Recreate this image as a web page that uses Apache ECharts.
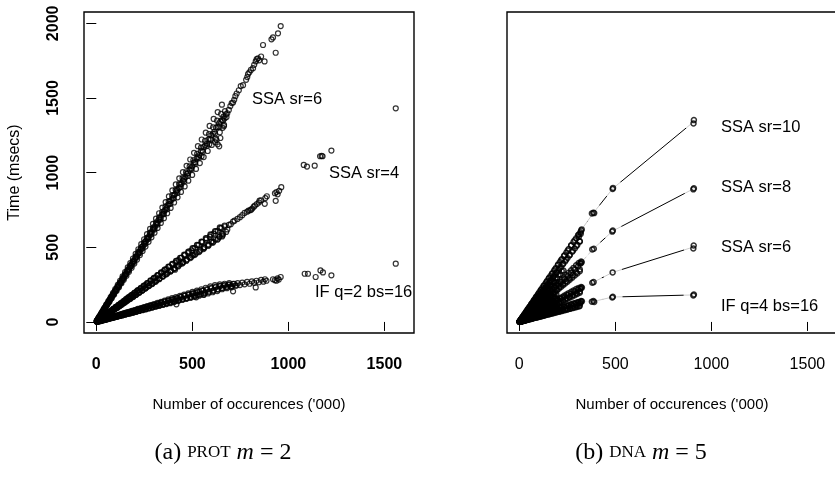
<!DOCTYPE html>
<html>
<head>
<meta charset="utf-8">
<script src="https://cdn.jsdelivr.net/npm/echarts@6/dist/echarts.min.js"></script>
<style>
  html, body { margin: 0; padding: 0; background: #fff; }
  #chart { width: 835px; height: 477px; }
</style>
</head>
<body>
<div id="chart"></div>
<script>
// ---- data ----
var xTicks = [0, 500, 1000, 1500];
var yTicks = [0, 500, 1000, 1500, 2000];

// (a) PROT m=2
var protSsa6 = [
  [1,4],[3,9],[4,6],[6,14],[8,17],[9,20],[11,25],[13,26],[15,33],[17,35],[19,41],[22,44],[24,52],[26,55],[29,60],[31,67],[34,70],[36,77],[39,81],[41,88],[44,92],[47,98],[49,104],[52,108],[55,117],[58,121],[61,127],[64,136],[67,139],[70,148],[73,153],[76,160],[80,169],[83,173],[86,183],[90,187],[93,196],[97,204],[100,209],[104,220],[108,224],[111,235],[115,240],[119,249],[123,259],[127,264],[131,276],[135,281],[139,292],[143,298],[147,309],[151,318],[156,324],[160,338],[164,343],[169,354],[173,364],[178,371],[182,384],[187,390],[191,402],[196,410],[201,420],[205,433],[210,438],[215,452],[220,459],[225,470],[230,485],[235,490],[240,505],[245,512],[251,524],[256,540],[261,545],[267,561],[272,568],[278,580],[283,597],[289,602],[294,619],[300,626],[306,640],[312,657],[317,661],[323,680],[329,688],[335,700],[341,718],[347,724],[353,742],[359,750],[365,763],[372,783],[378,788],[384,808],[391,816],[397,829],[404,850],[410,855],[417,876],[423,885],[430,898],[437,920],[444,925],[451,947],[457,957],[464,969],[471,992],[478,996],[486,1020],[493,1030],[500,1043],[507,1067],[515,1070],[522,1096],[529,1105],[537,1118],[544,1143],[552,1148],[560,1172],[567,1183],[575,1195],[583,1222],[591,1226],[599,1250],[607,1262],[615,1274],[623,1302],[631,1306],[639,1330],[646,1343],[654,1352],[662,1375],[668,1362],[675,1390],
  [618,1205],[626,1218],[632,1190],[640,1176],[646,1232],[658,1300],[665,1320],[588,1190],[548,1110],
  [682,1398],[690,1420],[698,1446],[705,1466],[712,1470],[718,1488],[724,1512],[731,1530],[742,1552],[752,1580],[764,1586],[780,1622],[786,1640],[790,1660],[797,1672],[805,1688],[816,1700],[822,1722],[830,1745],[835,1760],[842,1766],[848,1752],[858,1778],[868,1855],[876,1745],[912,1893],[920,1906],[934,1803],[946,1933],[960,1982]
];
var protSsa6More = [
  [5,10],[12,24],[18,40],[25,51],[32,69],[38,77],[45,97],[51,104],[57,123],[63,128],[70,150],[77,157],[83,177],[89,183],[96,206],[103,210],[109,234],[116,236],[122,262],[129,264],[135,290],[142,291],[149,319],[155,319],[162,348],[169,346],[176,377],[183,375],[190,407],[197,403],[204,437],[211,433],[219,469],[226,462],[233,500],[241,492],[248,532],[256,524],[263,564],[271,556],[279,598],[287,588],[295,632],[303,620],[311,667],[319,652],[327,701],[335,686],[343,736],[352,722],[360,772],[369,755],[377,808],[386,792],[395,847],[404,828],[413,885],[422,866],[431,924],[440,905],[449,963],[458,942],[467,1002],[477,980],[486,1042],[496,1022],[505,1083],[515,1060],[525,1126],[535,1100],[545,1168],[555,1140],[566,1213],[576,1180],[587,1258],[597,1222],[608,1304],[618,1262],[629,1348],[640,1306],[650,1393],[660,1350],[670,1412],[678,1372]
];
var protSsa6Edge = [
  [3,7],[9,18],[15,34],[21,42],[27,60],[33,65],[39,87],[45,89],[51,114],[57,113],[63,140],[69,136],[75,167],[81,160],[87,194],[93,184],[99,220],[106,209],[112,249],[118,233],[124,276],[131,259],[137,305],[143,282],[150,334],[157,310],[164,365],[170,336],[177,394],[184,363],[191,425],[198,391],[205,456],[212,418],[219,487],[227,448],[234,521],[241,476],[249,554],[256,505],[264,588],[272,537],[280,623],[287,567],[295,657],[303,598],[311,692],[319,630],[327,728],[336,663],[344,766],[352,695],[361,803],[369,728],[378,841],[387,764],[396,881],[405,800],[414,921],[423,835],[432,962],[441,871],[451,1003],[460,908],[470,1046],[479,946],[489,1088],[499,985],[509,1133],[519,1025],[529,1177],[539,1064],[549,1222],[559,1104],[570,1268],[580,1145],[590,1313],[601,1186],[611,1360],[622,1228],[632,1406],[643,1270],[654,1455],[665,1312]
];
var protSsa4 = [
  [2,3],[5,4],[8,9],[11,9],[14,15],[17,14],[20,20],[24,21],[27,27],[31,27],[34,34],[38,34],[42,42],[45,40],[49,48],[53,47],[57,56],[61,54],[65,63],[69,61],[73,71],[77,68],[81,79],[86,76],[90,88],[94,83],[99,97],[103,91],[108,105],[112,99],[117,114],[122,108],[126,122],[131,116],[136,132],[141,125],[146,141],[151,134],[156,151],[161,143],[166,161],[171,152],[177,171],[182,162],[187,181],[193,171],[198,191],[204,181],[210,203],[215,191],[221,214],[227,202],[233,225],[239,212],[245,237],[251,223],[257,249],[263,234],[270,261],[276,245],[283,274],[289,257],[296,287],[302,268],[309,299],[316,281],[323,313],[330,293],[337,326],[344,306],[351,340],[358,318],[366,354],[373,331],[381,369],[388,345],[396,383],[404,359],[412,398],[420,374],[428,414],[436,388],[444,430],[453,403],[461,446],[469,418],[478,462],[487,434],[496,479],[505,450],[514,497],[523,466],[533,515],[542,483],[552,534],[561,500],[571,552],[581,518],[591,571],[601,536],[611,591],[621,553],[632,611],[642,572],[652,630],[660,590],[668,646],[676,603],
  [410,350],[452,400],[500,445],[560,500],[600,540],[640,570],[655,590],
  [690,650],[700,655],[712,672],[720,678],[735,690],[748,702],[760,715],[772,730],[785,738],[792,745],[800,748],[806,752],[812,760],[820,772],[826,780],[836,790],[846,800],[850,812],[858,815],[877,791],[880,830],[888,842],[930,862],[938,870],[944,855],[934,811],[952,878],[963,903],
  [1080,1052],[1097,1041],[1137,1047],[1165,1110],[1173,1112],[1178,1110],[1224,1148],[1559,1431]
];
var protSsa4More = [
  [6,7],[13,11],[19,19],[26,23],[33,32],[40,35],[47,46],[54,48],[61,59],[68,61],[75,73],[82,74],[89,87],[97,87],[104,101],[111,99],[119,116],[126,112],[134,130],[142,127],[149,145],[157,140],[165,161],[173,154],[181,176],[189,168],[197,192],[205,182],[213,208],[222,197],[230,224],[239,211],[247,241],[256,226],[265,258],[274,242],[283,276],[292,258],[301,294],[310,274],[320,312],[329,290],[339,331],[348,307],[358,350],[368,324],[378,369],[388,342],[398,388],[408,360],[419,409],[429,378],[440,429],[450,397],[461,450],[472,416],[483,471],[494,435],[505,493],[516,455],[527,515],[539,475],[550,537],[562,495],[574,560],[586,516],[598,583],[610,537],[622,607],[634,558],[646,628],[658,580],[670,640],[682,620]
];
var protSsa4Edge = [
  [4,4],[10,9],[16,16],[22,19],[28,28],[34,30],[40,40],[46,40],[52,51],[58,51],[64,63],[70,61],[76,75],[83,73],[89,88],[95,83],[102,101],[108,94],[115,113],[121,106],[128,126],[135,118],[142,140],[149,130],[156,154],[163,143],[170,168],[178,156],[185,182],[193,169],[200,197],[208,182],[216,213],[224,196],[232,229],[240,210],[248,244],[257,225],[265,261],[274,240],[282,278],[291,254],[300,296],[309,270],[318,313],[327,286],[337,332],[346,303],[356,351],[365,319],[375,370],[385,337],[395,389],[405,354],[415,409],[426,372],[436,430],[447,391],[457,451],[468,409],[479,472],[490,428],[501,494],[512,448],[524,517],[535,468],[547,539],[558,488],[570,562],[582,509],[594,586],[606,530],[618,609],[630,551],[643,633],[655,573]
];
var protIf = [
  [2,3],[5,1],[8,5],[11,3],[14,7],[17,5],[20,9],[23,6],[27,12],[30,9],[34,15],[37,11],[41,17],[45,13],[48,20],[52,16],[56,24],[60,19],[64,26],[68,22],[72,29],[76,25],[81,32],[85,27],[89,37],[94,31],[98,40],[103,34],[108,43],[112,37],[117,47],[122,40],[127,51],[132,44],[137,54],[142,48],[147,58],[153,51],[158,62],[163,55],[169,66],[174,58],[180,70],[186,62],[192,75],[198,66],[204,80],[210,70],[216,84],[222,75],[228,88],[235,80],[241,93],[248,84],[254,98],[261,88],[268,103],[275,93],[282,108],[289,98],[296,113],[303,103],[311,118],[318,108],[326,124],[333,114],[341,130],[349,119],[357,136],[365,125],[373,142],[381,130],[390,148],[398,137],[407,155],[415,143],[424,160],[433,150],[442,167],[451,155],[460,174],[469,160],[479,181],[488,168],[498,188],[507,175],[517,195],[527,181],[537,202],[547,188],[557,210],[567,196],[578,217],[588,204],[599,224],[610,212],[620,232],[631,220],[642,240],[653,228],[664,245],[676,233],[688,250],[700,238],[712,255],[724,243],[736,260],[748,247],[760,264],[772,252],[785,268],[798,256],[810,272],[822,262],[834,276],[846,266],[858,282],[870,270],[878,286],[886,276],[920,286],[930,280],[938,276],[944,292],[950,284],[960,301],
  [417,118],[712,205],[830,231],[520,165],[560,182],
  [1085,323],[1102,323],[1142,301],[1167,345],[1180,332],[1224,312],[1559,390]
];
var protIfMore = [
  [6,3],[13,4],[19,8],[26,8],[33,13],[40,13],[47,18],[54,18],[61,23],[68,23],[75,29],[82,28],[89,34],[97,33],[104,40],[111,38],[119,45],[126,43],[134,51],[142,48],[149,57],[157,53],[165,63],[173,58],[181,69],[189,64],[197,75],[205,69],[213,81],[222,75],[230,88],[239,81],[247,94],[256,87],[265,101],[274,93],[283,108],[292,99],[301,115],[310,105],[320,122],[329,112],[339,130],[348,118],[358,137],[368,125],[378,145],[388,131],[398,152],[408,138],[419,160],[429,145],[440,168],[450,152],[461,176],[472,160],[483,185],[494,167],[505,193],[516,175],[527,201],[539,183],[550,210],[562,191],[574,219],[586,199],[598,228],[610,207],[622,236],[634,216],[646,241],[658,226],[670,247],[682,236],[694,251],[706,240],[718,256],[730,244]
];
var protIfEdge = [
  [4,2],[10,3],[16,7],[22,7],[28,11],[34,11],[40,16],[46,15],[52,21],[58,19],[64,26],[70,23],[76,30],[83,27],[89,36],[95,31],[102,41],[108,35],[115,46],[121,40],[128,51],[135,44],[142,57],[149,49],[156,63],[163,54],[170,68],[178,58],[185,74],[193,63],[200,80],[208,68],[216,87],[224,74],[232,93],[240,79],[248,100],[257,84],[265,106],[274,90],[282,113],[291,96],[300,120],[309,102],[318,128],[327,107],[337,135],[346,114],[356,143],[365,120],[375,151],[385,126],[395,159],[405,133],[415,167],[426,140],[436,175],[447,147],[457,183],[468,154],[479,192],[490,161],[501,201],[512,168],[524,210],[535,176],[547,219],[558,183],[570,229],[582,191],[594,238],[606,199],[618,247],[630,207],[643,252],[655,219],[668,256],[680,226],[692,260],[704,232]
];

// (b) DNA m=5
var dnaSsa10 = [
  [1,2],[3,5],[4,8],[6,10],[7,13],[9,16],[10,20],[12,21],[14,27],[15,26],[17,33],[19,32],[21,40],[22,38],[24,46],[26,44],[28,53],[30,51],[32,61],[34,57],[36,69],[38,64],[41,78],[43,72],[45,86],[48,81],[50,95],[53,90],[55,104],[58,98],[61,116],[63,106],[66,126],[69,115],[72,137],[75,126],[78,148],[81,136],[84,160],[88,148],[91,173],[94,158],[98,186],[101,170],[105,200],[109,184],[112,213],[116,196],[120,228],[124,210],[128,243],[132,222],[136,258],[140,236],[145,275],[149,250],[153,291],[158,266],[162,308],[167,282],[172,326],[176,298],[181,344],[186,314],[191,362],[196,332],[201,381],[206,350],[211,401],[217,368],[222,421],[228,388],[233,442],[239,406],[245,465],[251,428],[257,488],[263,448],[270,512],[276,470],[282,535],[289,492],[296,560],[302,516],[309,585],[315,540],[322,612],[325,620],[318,600],[310,570],
  [378,727],[385,731],[390,729],[486,890],[488,898],[907,1330],[909,1352]
];
var dnaSsa10More = [
  [2,4],[5,8],[8,16],[11,18],[13,25],[16,27],[19,37],[23,39],[27,51],[31,52],[35,67],[40,68],[44,84],[49,84],[54,103],[59,101],[64,122],[70,120],[76,145],[82,141],[88,168],[94,161],[100,190],[107,183],[113,215],[120,205],[127,242],[134,229],[141,268],[148,253],[155,295],[163,279],[170,323],[178,304],[186,353],[194,332],[202,384],[210,359],[218,414],[227,388],[235,447],[244,417],[252,479],[261,446],[270,513],[279,477],[288,547],[297,508],[306,581],[315,539],[320,590],
  [3,5],[8,12],[13,20],[18,27],[23,36],[28,42],[33,51],[38,57],[44,68],[49,74],[55,85],[60,90],[66,102],[72,108],[78,121],[84,126],[90,140],[96,144],[103,160],[109,164],[116,180],[122,183],[129,200],[136,204],[143,222],[150,225],[157,243],[165,248],[172,267],[180,270],[188,291],[196,294],[204,316],[212,318],[221,342],[230,345]
];
var dnaSsa8 = [
  [1,1],[3,3],[4,5],[6,7],[7,9],[9,10],[10,13],[12,13],[14,18],[15,16],[17,22],[19,21],[21,27],[22,24],[24,31],[26,28],[28,36],[30,32],[32,41],[34,37],[36,46],[38,41],[41,53],[43,46],[45,58],[48,52],[50,64],[53,57],[55,71],[58,62],[61,78],[63,68],[66,85],[69,74],[72,93],[75,81],[78,100],[81,87],[84,108],[88,95],[91,117],[94,101],[98,126],[101,109],[105,135],[109,117],[112,144],[116,125],[120,154],[124,134],[128,165],[132,142],[136,175],[140,151],[145,186],[149,161],[153,197],[158,170],[162,208],[167,180],[172,221],[176,190],[181,233],[186,200],[191,245],[196,211],[201,258],[206,222],[211,271],[217,234],[222,285],[228,246],[233,299],[239,258],[245,315],[251,270],[257,330],[263,283],[270,346],[276,297],[282,362],[289,311],[296,379],[302,325],[309,395],[315,340],[322,405],[325,400],[318,395],
  [380,486],[388,490],[484,605],[487,612],[906,888],[909,895]
];
var dnaSsa8More = [
  [2,2],[5,5],[8,10],[11,12],[13,16],[16,18],[19,23],[23,25],[27,33],[31,34],[35,43],[40,44],[44,54],[49,55],[54,66],[59,66],[64,78],[70,78],[76,93],[82,92],[88,108],[94,105],[100,122],[107,120],[113,138],[120,134],[127,155],[134,150],[141,172],[148,165],[155,189],[163,182],[170,207],[178,199],[186,227],[194,217],[202,246],[210,235],[218,266],[227,254],[235,287],[244,273],[252,307],[261,292],[270,329],[279,312],[288,351],[297,332],[306,373],[315,352],[320,392],
  [4,6],[10,14],[16,23],[22,31],[28,40],[34,48],[41,59],[47,66],[54,77],[61,86],[68,98],[75,105],[82,118],[90,126],[97,140],[105,147],[113,162],[121,170],[129,185],[138,193],[146,210],[155,217],[164,236],[173,243],[182,262],[192,268],
  [5,5],[11,11],[17,17],[23,22],[29,29],[35,34],[42,42],[48,46],[55,55],[62,60],[69,69],[76,73],[83,83],[91,88],[98,98],[106,102],[114,114],[122,117],[130,130],[139,134],[147,147],[156,150],[165,165],[174,167],[183,183],[193,185]
];
var dnaSsa6 = [
  [1,1],[3,2],[4,3],[6,4],[7,5],[9,6],[10,8],[12,8],[14,10],[15,9],[17,13],[19,12],[21,16],[22,14],[24,18],[26,16],[28,21],[30,19],[32,24],[34,21],[36,27],[38,23],[41,31],[43,26],[45,34],[48,30],[50,38],[53,33],[55,41],[58,36],[61,46],[63,39],[66,50],[69,43],[72,54],[75,46],[78,59],[81,50],[84,63],[88,55],[91,68],[94,58],[98,74],[101,63],[105,79],[109,68],[112,84],[116,72],[120,90],[124,77],[128,96],[132,82],[136,102],[140,87],[145,109],[149,93],[153,115],[158,98],[162,122],[167,104],[172,129],[176,109],[181,136],[186,115],[191,143],[196,122],[201,151],[206,128],[211,158],[217,135],[222,166],[228,141],[233,175],[239,148],[245,184],[251,156],[257,193],[263,163],[270,202],[276,171],[282,211],[289,179],[296,220],[302,187],[309,228],[315,196],[322,234],[326,230],[318,222],
  [380,263],[387,267],[486,332],[906,492],[908,512]
];
var dnaSsa6More = [
  [2,1],[5,3],[8,6],[11,7],[13,9],[16,10],[19,13],[23,15],[27,19],[31,20],[35,25],[40,26],[44,31],[49,32],[54,38],[59,38],[64,45],[70,45],[76,54],[82,53],[88,62],[94,61],[100,71],[107,69],[113,80],[120,78],[127,90],[134,87],[141,100],[148,96],[155,110],[163,106],[170,121],[178,115],[186,132],[194,126],[202,143],[210,136],[218,155],[227,147],[235,167],[244,158],[252,179],[261,169],[270,191],[279,181],[288,204],[297,193],[306,217],[315,204],[320,226],
  [4,4],[10,9],[16,14],[22,18],[28,25],[34,28],[41,37],[47,39],[54,49],[61,51],[68,61],[75,62],[82,74],[90,75],[97,87],[105,87],[113,102],[121,100],[129,116],[138,114],[146,131],[155,128],[164,148],[173,143],[182,164],[192,158],
  [5,3],[11,6],[17,9],[23,12],[29,16],[35,18],[42,23],[48,25],[55,30],[62,32],[69,38],[76,39],[83,46],[91,47],[98,54],[106,55],[114,63],[122,63],[130,72],[139,72],[147,81],[156,81],[165,91],[174,90],[183,101],[193,100]
];
var dnaIf = [
  [1,0],[3,1],[4,2],[6,2],[7,3],[9,3],[10,5],[12,4],[14,6],[15,5],[17,8],[19,7],[21,10],[22,8],[24,11],[26,9],[28,13],[30,10],[32,15],[34,12],[36,17],[38,13],[41,19],[43,15],[45,21],[48,16],[50,23],[53,18],[55,25],[58,20],[61,28],[63,21],[66,30],[69,23],[72,33],[75,26],[78,36],[81,28],[84,39],[88,30],[91,42],[94,32],[98,45],[101,34],[105,48],[109,37],[112,51],[116,39],[120,55],[124,42],[128,59],[132,45],[136,62],[140,48],[145,66],[149,51],[153,70],[158,54],[162,74],[167,57],[172,78],[176,60],[181,82],[186,63],[191,87],[196,67],[201,91],[206,70],[211,95],[217,74],[222,100],[228,78],[233,104],[239,81],[245,109],[251,85],[257,114],[263,89],[270,119],[276,94],[282,124],[289,98],[296,129],[302,103],[309,134],[315,108],[322,140],[326,138],[318,128],
  [378,136],[386,140],[390,134],[484,164],[487,169],[906,178],[909,184]
];
var dnaIfMore = [
  [2,1],[5,2],[8,3],[11,4],[13,6],[16,6],[19,8],[23,9],[27,12],[31,12],[35,15],[40,16],[44,19],[49,19],[54,23],[59,23],[64,28],[70,27],[76,33],[82,32],[88,38],[94,36],[100,43],[107,42],[113,49],[120,47],[127,55],[134,52],[141,61],[148,57],[155,67],[163,63],[170,74],[178,69],[186,80],[194,76],[202,87],[210,82],[218,94],[227,88],[235,102],[244,95],[252,109],[261,102],[270,117],[279,109],[288,124],[297,116],[306,132],[315,123],[320,136],
  [5,2],[12,6],[19,9],[26,12],[33,16],[41,19],[48,23],[56,26],[64,31],[72,34],[80,38],[89,42],[97,47],[106,50],[115,55],[124,58],[134,64],[143,67],[153,73],[163,77],[173,83],[184,87],
  [6,2],[14,5],[22,7],[31,10],[40,13],[49,16],[58,19],[68,22],[78,26],[88,29],[99,33],[110,36],[121,40],[133,44],[145,48],[157,52],[170,56],[183,60],[196,65],[210,69],[224,74],[238,79],[252,83],[266,88],[281,93],[296,98],[311,103]
];
// connecting lines through the sparse points of (b)
var dnaSsa10Path = [[325,620],[385,729],[487,894],[908,1341]];
var dnaSsa8Path = [[325,402],[384,488],[486,609],[907,892]];
var dnaSsa6Path = [[326,232],[384,265],[486,332],[907,502]];
var dnaIfPath = [[326,138],[385,137],[486,167],[907,181]];

// ---- chart ----
var FONT = 'Liberation Sans, Arial, Helvetica, sans-serif';
var SERIF = 'Liberation Serif, DejaVu Serif, serif';
var chart = echarts.init(document.getElementById('chart'), null, { renderer: 'canvas' });

function pts(data, gi, bw) {
  return {
    type: 'scatter', xAxisIndex: gi, yAxisIndex: gi, data: data,
    symbol: 'circle', symbolSize: 5, z: 3, silent: true,
    itemStyle: { color: 'rgba(0,0,0,0)', borderColor: '#000', borderWidth: bw }
  };
}
function path(data) {
  return {
    type: 'line', xAxisIndex: 1, yAxisIndex: 1, data: data, z: 1, silent: true,
    symbol: 'none', lineStyle: { color: '#000', width: 1 }
  };
}
function halo(data) {
  return {
    type: 'scatter', xAxisIndex: 1, yAxisIndex: 1, data: data, z: 2, silent: true,
    symbol: 'circle', symbolSize: 20, itemStyle: { color: '#fff', borderWidth: 0 }
  };
}
function plain(v) { return String(v); }
function xAx(gi, bold) {
  return {
    gridIndex: gi, type: 'value', min: -64, max: 1654,
    axisLine: { show: false },
    axisTick: { show: true, length: 9, customValues: xTicks, lineStyle: { color: '#000', width: 1 } },
    axisLabel: { customValues: xTicks, formatter: plain, color: '#000', fontSize: 16, fontFamily: FONT, fontWeight: bold ? 'bold' : 'normal', margin: 24 },
    splitLine: { show: false },
    name: "Number of occurences ('000)", nameLocation: 'middle', nameGap: 64,
    nameTextStyle: { color: '#000', fontSize: 15, fontFamily: FONT }
  };
}

var option = {
  animation: false,
  backgroundColor: '#fff',
  grid: [
    { left: 84, top: 12, width: 330, height: 321, show: true, borderColor: '#000', borderWidth: 1.4, backgroundColor: 'transparent', outerBoundsMode: 'none' },
    { left: 507, top: 12, width: 330, height: 321, show: true, borderColor: '#000', borderWidth: 1.4, backgroundColor: 'transparent', outerBoundsMode: 'none' }
  ],
  xAxis: [xAx(0, true), xAx(1, false)],
  yAxis: [
    {
      gridIndex: 0, type: 'value', min: -74, max: 2076,
      axisLine: { show: false },
      axisTick: { show: true, length: 10, customValues: yTicks, lineStyle: { color: '#000', width: 1 } },
      axisLabel: { customValues: yTicks, formatter: plain, rotate: 90, color: '#000', fontSize: 16, fontFamily: FONT, fontWeight: 'bold', margin: 22 },
      splitLine: { show: false },
      name: 'Time (msecs)', nameLocation: 'middle', nameGap: 61,
      nameTextStyle: { color: '#000', fontSize: 16, fontFamily: FONT }
    },
    {
      gridIndex: 1, type: 'value', min: -74, max: 2076,
      axisLine: { show: false }, axisTick: { show: false }, axisLabel: { show: false },
      splitLine: { show: false }
    }
  ],
  series: [
    pts(protSsa6.concat(protSsa6More, protSsa6Edge), 0, 1.2),
    pts(protSsa4.concat(protSsa4More, protSsa4Edge), 0, 1.2),
    pts(protIf.concat(protIfMore, protIfEdge), 0, 1.2),
    path(dnaSsa10Path), path(dnaSsa8Path), path(dnaSsa6Path), path(dnaIfPath),
    halo(dnaSsa10Path), halo(dnaSsa8Path), halo(dnaSsa6Path), halo(dnaIfPath),
    pts(dnaSsa10.concat(dnaSsa10More), 1, 1.5), pts(dnaSsa8.concat(dnaSsa8More), 1, 1.5),
    pts(dnaSsa6.concat(dnaSsa6More), 1, 1.5), pts(dnaIf.concat(dnaIfMore), 1, 1.5)
  ],
  graphic: [
    { type: 'text', x: 252, y: 99, silent: true, style: { text: 'SSA sr=6', font: '16.5px ' + FONT, fill: '#000', verticalAlign: 'middle' } },
    { type: 'text', x: 329, y: 173, silent: true, style: { text: 'SSA sr=4', font: '16.5px ' + FONT, fill: '#000', verticalAlign: 'middle' } },
    { type: 'text', x: 315, y: 292, silent: true, style: { text: 'IF q=2 bs=16', font: '16.5px ' + FONT, fill: '#000', verticalAlign: 'middle' } },
    { type: 'text', x: 721, y: 127, silent: true, style: { text: 'SSA sr=10', font: '16.5px ' + FONT, fill: '#000', verticalAlign: 'middle' } },
    { type: 'text', x: 721, y: 187, silent: true, style: { text: 'SSA sr=8', font: '16.5px ' + FONT, fill: '#000', verticalAlign: 'middle' } },
    { type: 'text', x: 721, y: 247, silent: true, style: { text: 'SSA sr=6', font: '16.5px ' + FONT, fill: '#000', verticalAlign: 'middle' } },
    { type: 'text', x: 721, y: 306, silent: true, style: { text: 'IF q=4 bs=16', font: '16.5px ' + FONT, fill: '#000', verticalAlign: 'middle' } },
    {
      type: 'text', x: 223, y: 453, silent: true,
      style: {
        text: '(a) {sc|PROT} {i|m} = 2', align: 'center', verticalAlign: 'middle',
        font: '24px ' + SERIF, fill: '#000',
        rich: { sc: { fontFamily: SERIF, fontSize: 17 }, i: { fontFamily: SERIF, fontSize: 24, fontStyle: 'italic' } }
      }
    },
    {
      type: 'text', x: 641, y: 453, silent: true,
      style: {
        text: '(b) {sc|DNA} {i|m} = 5', align: 'center', verticalAlign: 'middle',
        font: '24px ' + SERIF, fill: '#000',
        rich: { sc: { fontFamily: SERIF, fontSize: 17 }, i: { fontFamily: SERIF, fontSize: 24, fontStyle: 'italic' } }
      }
    }
  ]
};
chart.setOption(option);
</script>
</body>
</html>
